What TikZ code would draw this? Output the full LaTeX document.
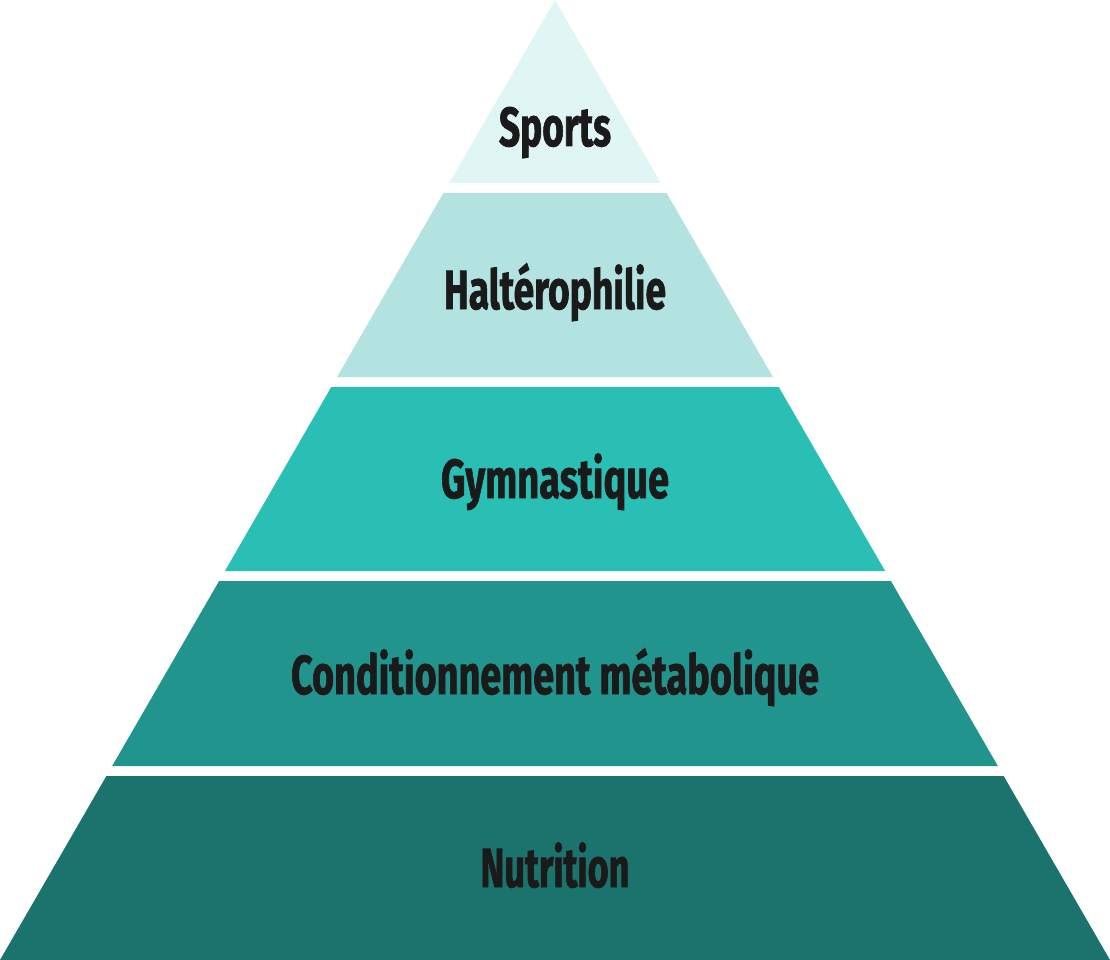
\documentclass[tikz,border=0pt]{standalone}
\usepackage{fontspec}
\setmainfont{Fira Sans}[BoldFeatures={FakeBold=1.6}]
\usepackage{graphicx}
\definecolor{cSports}{HTML}{DFF6F5}
\definecolor{cHalt}{HTML}{B3E3E1}
\definecolor{cGym}{HTML}{2ABFB5}
\definecolor{cCond}{HTML}{21958D}
\definecolor{cNutr}{HTML}{1A736D}
\definecolor{cText}{HTML}{1A1A1A}
\newcommand{\band}[3]{%
  \fill[#3] ({555-0.578125*#1},{-#1}) -- ({555+0.578125*#1},{-#1}) -- ({555+0.578125*#2},{-#2}) -- ({555-0.578125*#2},{-#2}) -- cycle;}
\tikzset{lbl/.style={anchor=base, inner sep=0pt, text=cText, font=\fontsize{55}{55}\selectfont\bfseries}}
\begin{document}
\begin{tikzpicture}[x=1pt,y=1pt]
\useasboundingbox (0,0) rectangle (1110,-960);
\fill[cSports] (555,0) -- ({555+0.578125*183},-183) -- ({555-0.578125*183},-183) -- cycle;
\band{193}{377}{cHalt}
\band{387}{571}{cGym}
\band{581}{766}{cCond}
\band{776}{960}{cNutr}
\node[lbl] (sports) at (555,-146) {\resizebox{112pt}{\height}{Sports}};
\node[lbl] (halt) at (555,-309) {\resizebox{222pt}{\height}{Haltérophilie}};
\node[lbl] (gym) at (555,-498) {\resizebox{228pt}{\height}{Gymnastique}};
\node[lbl] (cond) at (555,-694) {\resizebox{528pt}{\height}{Conditionnement métabolique}};
\node[lbl] (nutr) at (555,-887) {\resizebox{149pt}{\height}{Nutrition}};
\end{tikzpicture}
\end{document}
